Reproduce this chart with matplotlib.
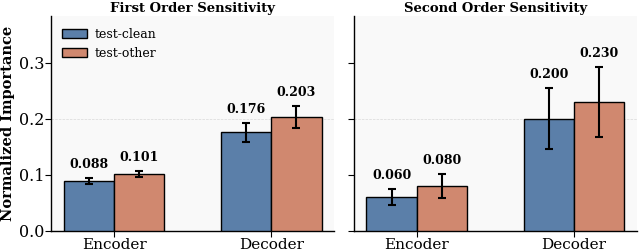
import matplotlib
matplotlib.use("Agg")
import matplotlib.pyplot as plt
import numpy as np

plt.rcParams['font.family'] = 'DejaVu Serif'

# data
components = ['Encoder', 'Decoder']
splits = ['test-clean', 'test-other']
panel_titles = ['First Order Sensitivity', 'Second Order Sensitivity']

first_clean = [0.088, 0.176]
first_other = [0.101, 0.203]
first_clean_err = [0.0055, 0.017]
first_other_err = [0.006, 0.019]

second_clean = [0.060, 0.200]
second_other = [0.080, 0.230]
second_clean_err = [0.015, 0.055]
second_other_err = [0.021, 0.063]

y_ticks = [0.0, 0.1, 0.2, 0.3]
ref_level = 0.2  # the only dashed guide line in the original

colors = ['#5B7FA9', '#D0886F']
bar_width = 0.32

fig, axes = plt.subplots(1, 2, figsize=(6.4, 2.52), dpi=100, sharey=True)
fig.subplots_adjust(left=0.08, right=0.995, top=0.935, bottom=0.085, wspace=0.07)

panels = [
    (first_clean, first_other, first_clean_err, first_other_err),
    (second_clean, second_other, second_clean_err, second_other_err),
]

x = np.arange(len(components))
for ax, title, (clean, other, clean_err, other_err) in zip(axes, panel_titles, panels):
    ax.set_facecolor('#f9f9f9')
    ax.axhline(ref_level, linestyle='--', linewidth=0.5, color='#d8d8d8', zorder=0)
    for i, (vals, errs) in enumerate([(clean, clean_err), (other, other_err)]):
        pos = x + (i - 0.5) * bar_width
        ax.bar(pos, vals, bar_width, yerr=errs, color=colors[i], edgecolor='black',
               linewidth=1.0, label=splits[i], zorder=3,
               error_kw=dict(ecolor='black', elinewidth=1.5, capsize=3, capthick=1.5, zorder=4))
        for p, v, e in zip(pos, vals, errs):
            ax.annotate(f'{v:.3f}', (p, v + e), xytext=(0, 5), textcoords='offset points',
                        ha='center', va='bottom', fontsize=9, fontweight='bold', zorder=5)

    ax.set_title(title, fontsize=9.5, fontweight='bold', pad=3)
    ax.set_xticks(x)
    ax.set_xticklabels(components, fontsize=11)
    ax.set_xlim(-0.4, 1.4)
    ax.set_ylim(0, 0.383)
    ax.set_yticks(y_ticks)
    ax.spines['top'].set_visible(False)
    ax.spines['right'].set_visible(False)
    ax.spines['left'].set_linewidth(1.0)
    ax.spines['bottom'].set_linewidth(1.0)
    ax.tick_params(axis='both', length=4, pad=1)
    ax.tick_params(axis='y', labelsize=11.5)
    ax.tick_params(axis='x', labelsize=11)

axes[0].set_ylabel('Normalized Importance', fontsize=10.5, fontweight='bold', labelpad=3)
axes[0].legend(loc='upper left', frameon=False, fontsize=9, handlelength=2.0,
               handletextpad=0.6, borderaxespad=0.5, labelspacing=0.5)

fig.savefig('out.png', dpi=100)
